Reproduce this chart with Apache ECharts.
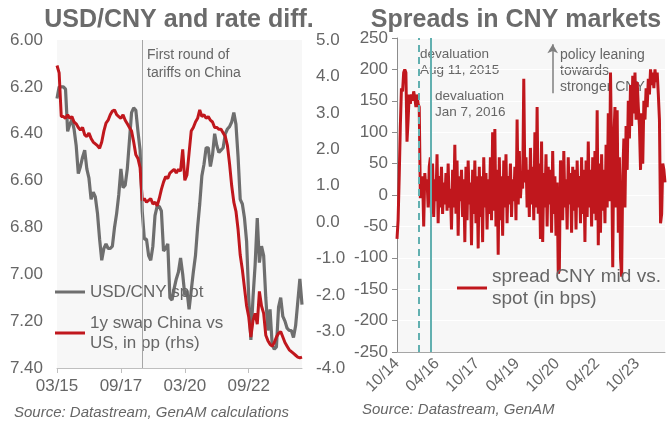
<!DOCTYPE html>
<html><head><meta charset="utf-8">
<script src="https://cdn.jsdelivr.net/npm/echarts@6/dist/echarts.min.js"></script>
<style>html,body{margin:0;padding:0;background:#fff}#c{width:670px;height:421px}</style>
</head><body><div id="c"></div>
<script>
// ---- data ----
// Left chart: monthly, Mar 2015 .. Oct 2024
const leftStartYear = 2015, leftStartMonth = 3, leftMonthCount = 116;
const usdcny = [
  6.25,6.20,6.20,6.20,6.21,6.39,6.36,6.34,6.38,6.45,
  6.57,6.54,6.50,6.47,6.55,6.59,6.68,6.65,6.67,6.74,6.85,6.94,
  6.89,6.87,6.89,6.89,6.88,6.80,6.74,6.66,6.55,6.63,6.62,6.55,
  6.43,6.31,6.29,6.30,6.39,6.47,6.73,6.85,6.85,6.92,6.94,6.88,
  6.75,6.71,6.71,6.73,6.90,6.89,6.87,7.10,7.11,7.06,7.02,6.99,
  6.93,7.00,7.09,7.07,7.15,7.07,6.99,6.92,6.80,6.70,6.58,6.53,
  6.46,6.46,6.54,6.49,6.40,6.45,6.48,6.47,6.46,6.40,6.38,6.37,
  6.35,6.31,6.36,6.50,6.68,6.70,6.76,6.86,7.10,7.28,7.10,6.96,
  6.76,6.95,6.88,6.92,7.10,7.24,7.15,7.30,7.32,7.31,7.14,7.10,
  7.18,7.20,7.23,7.24,7.24,7.27,7.22,7.12,7.02,7.13
];
const rateDiff = [
  4.30,4.10,2.90,2.90,2.85,2.95,2.85,2.90,2.75,2.70,
  2.60,2.53,2.60,2.40,2.35,2.45,2.30,2.20,2.15,2.10,2.03,2.20,
  2.50,2.72,2.80,2.95,3.05,3.08,2.95,2.90,2.85,2.95,2.80,2.70,
  2.60,2.50,2.20,1.85,1.75,1.50,0.60,0.65,0.55,0.60,0.65,0.50,
  0.55,0.45,0.65,0.90,1.10,1.25,1.20,1.35,1.40,1.45,1.35,1.45,
  1.40,2.00,1.15,1.30,1.90,2.50,2.60,2.75,2.85,3.08,2.90,2.95,
  2.85,2.90,2.80,2.75,2.60,2.60,2.55,2.55,2.45,2.35,2.10,1.60,
  1.00,0.55,0.30,-0.20,-0.90,-1.30,-1.80,-2.30,-2.60,-3.15,-2.70,-2.50,
  -2.80,-1.90,-2.30,-2.50,-3.10,-3.25,-3.35,-3.40,-3.30,-3.15,-3.05,-3.00,
  -3.15,-3.30,-3.40,-3.50,-3.55,-3.60,-3.65,-3.70,-3.72,-3.70
];
// Right chart: two readings per month, Oct 2014 .. Oct 2024
const rightStartYear = 2014, rightStartMonth = 10, rightMonthCount = 121;
const spread = [
  -70,-40, 30,110, 170,165, 195,200, 195,85, 120,160, 145,160, 150,165, 155,140, 160,145,
  140,-5, 15,30, -50,35, 10,25, -20,45, 60,-30, 50,-35, 25,-10, 65,-45, 30,-20,
  45,-30, 20,-15, 35,-25, 50,-20, 10,-55, 40,-20, 80,-30, 55,-65, 30,-10, 40,-35,
  25,-75, 45,-40, 55,-15, 20,-80, 40,-30, 55,-45, 30,-85, 45,-35, 30,-75, 60,-20,
  35,-55, 25,-30, 60,-40, 100,-25, 105,-50, 40,-95, 60,-40, 30,-65, 55,-20, 65,-45,
  30,-15, 50,-35, 25,-10, 45,-40, 120,-15, 70,-5, 30,10, 185,20, 60,-20, 40,-35,
  75,-15, 45,-40, 100,-20, 140,-30, 50,-70, 85,-75, 35,-20, 65,-50, 45,-15, 40,-60,
  70,-30, 30,-65, 20,-125, -120,55, 40,-40, 70,-20, 25,-55, 60,-15, 35,-60, 45,-25,
  40,-55, 55,-20, 30,-45, 60,-30, 40,-75, 55,-35, 85,-20, 40,-50, 60,-30, 70,-40,
  135,-80, 50,-60, 65,-25, 40,-45, 80,-20, 130,-10, 195,60, -115,90, 140,-20, 135,-60,
  60,-100, -130,30, 90,-20, 110,40, 150,90, 175,110, 190,130, 195,120, 180,140, 110,40,
  130,50, 150,120, 170,140, 185,160, 200,175, 195,170, 200,180, 195,160, 120,-45, -30,50,
  40,20
];
const leftTickLabels = ['03/15','09/17','03/20','09/22'];
const rightTickLabels = ['10/14','04/16','10/17','04/19','10/20','04/22','10/23'];
const tariffIndex = 40;      // Jul 2018 (month index in left chart)
const devalIndexAug15 = 20;  // Aug 2015 (half-month index in right chart)
const devalIndexJan16 = 30;  // Jan 2016

// ---- categories ----
function mmYY(y, m) { return String(m).padStart(2,'0') + '/' + String(y % 100).padStart(2,'0'); }
const leftCats = [];
for (let i = 0; i < leftMonthCount; i++) {
  const t = leftStartMonth - 1 + i;
  leftCats.push(mmYY(leftStartYear + Math.floor(t / 12), t % 12 + 1));
}
const rightCats = [];
for (let i = 0; i < rightMonthCount; i++) {
  const t = rightStartMonth - 1 + i;
  const lab = mmYY(rightStartYear + Math.floor(t / 12), t % 12 + 1);
  rightCats.push(lab + ' a'); rightCats.push(lab + ' b');
}

const FONT = '"Liberation Sans", Arial, sans-serif';
const TXT = '#666666';
const AXIS = '#bfbfbf';
const RED = '#c0171d';
const GRAY = '#6e6e6e';
const TEAL = '#62b0b0';

const chart = echarts.init(document.getElementById('c'), null, {renderer: 'canvas'});
chart.setOption({
  animation: false,
  backgroundColor: '#ffffff',
  textStyle: {fontFamily: FONT},
  grid: [
    {left: 57, top: 40, width: 245, height: 328, show: true, backgroundColor: '#f7f7f7', borderWidth: 0},
    {left: 397, top: 38, width: 268, height: 314, show: true, backgroundColor: '#f7f7f7', borderWidth: 0}
  ],
  xAxis: [
    {type: 'category', gridIndex: 0, data: leftCats, boundaryGap: false, position: 'bottom',
     axisLine: {onZero: false, lineStyle: {color: AXIS, width: 1}},
     axisTick: {show: true, interval: 29, length: 5, lineStyle: {color: AXIS}},
     axisLabel: {interval: 29, margin: 10, color: TXT, fontSize: 17, fontFamily: FONT,
       formatter: v => leftTickLabels.includes(v) ? v : ''},
     splitLine: {show: false}},
    {type: 'category', gridIndex: 1, data: rightCats, boundaryGap: false, position: 'bottom',
     axisLine: {onZero: false, lineStyle: {color: '#a6a6a6', width: 1}},
     axisTick: {show: false},
     axisLabel: {interval: 35, rotate: 45, margin: 9, color: TXT, fontSize: 16, fontFamily: FONT,
       formatter: v => { const s = v.slice(0,5); return rightTickLabels.includes(s) ? s : ''; }},
     splitLine: {show: false}}
  ],
  yAxis: [
    {type: 'value', gridIndex: 0, position: 'left', inverse: true, min: 6.0, max: 7.4, interval: 0.2,
     axisLine: {show: false}, axisTick: {show: false}, splitLine: {show: false},
     axisLabel: {margin: 14, color: TXT, fontSize: 17, fontFamily: FONT, formatter: v => v.toFixed(2)}},
    {type: 'value', gridIndex: 0, position: 'right', min: -4, max: 5, interval: 1,
     axisLine: {show: false}, axisTick: {show: false}, splitLine: {show: false},
     axisLabel: {margin: 14, color: TXT, fontSize: 17, fontFamily: FONT, formatter: v => v.toFixed(1)}},
    {type: 'value', gridIndex: 1, position: 'left', min: -250, max: 250, interval: 50,
     axisLine: {show: true, onZero: false, lineStyle: {color: '#8c8c8c', width: 1}},
     axisTick: {show: true, length: 5, lineStyle: {color: '#8c8c8c'}},
     splitLine: {show: true, lineStyle: {color: '#ffffff', width: 1}},
     axisLabel: {margin: 9, color: TXT, fontSize: 17, fontFamily: FONT}}
  ],
  legend: [
    {left: 55, top: 282, orient: 'vertical', padding: 0, itemGap: 1, itemWidth: 30, itemHeight: 3,
     icon: 'rect', selectedMode: false,
     textStyle: {fontSize: 17, color: TXT, fontFamily: FONT, lineHeight: 20},
     formatter: n => n === '1y swap China vs US, in pp (rhs)' ? '1y swap China vs\nUS, in pp (rhs)' : n,
     data: [{name: 'USD/CNY spot'},
            {name: '1y swap China vs US, in pp (rhs)', textStyle: {padding: [20, 0, 0, 0]}}]},
    {left: 457, top: 255, orient: 'vertical', padding: 0, itemWidth: 30, itemHeight: 3,
     icon: 'rect', selectedMode: false,
     textStyle: {fontSize: 19, color: TXT, fontFamily: FONT, lineHeight: 22},
     formatter: () => 'spread CNY mid vs.\nspot (in bps)',
     data: [{name: 'spread CNY mid vs. spot (in bps)', textStyle: {padding: [22, 0, 0, 0]}}]}
  ],
  series: [
    {name: 'USD/CNY spot', type: 'line', xAxisIndex: 0, yAxisIndex: 0, data: usdcny,
     showSymbol: false, symbol: 'none', lineStyle: {color: GRAY, width: 3.2}, itemStyle: {color: GRAY},
     markLine: {silent: true, symbol: 'none', label: {show: false},
       lineStyle: {color: '#a6a6a6', width: 1, type: 'solid'},
       data: [{xAxis: tariffIndex}]}},
    {name: '1y swap China vs US, in pp (rhs)', type: 'line', xAxisIndex: 0, yAxisIndex: 1, data: rateDiff,
     showSymbol: false, symbol: 'none', lineStyle: {color: RED, width: 3}, itemStyle: {color: RED}},
    {name: 'spread CNY mid vs. spot (in bps)', type: 'line', xAxisIndex: 1, yAxisIndex: 2, data: spread,
     showSymbol: false, symbol: 'none', lineStyle: {color: RED, width: 3}, itemStyle: {color: RED},
     markLine: {silent: true, symbol: 'none', label: {show: false},
       data: [
         {xAxis: devalIndexAug15, lineStyle: {color: TEAL, width: 2, type: [7, 5]}},
         {xAxis: devalIndexJan16, lineStyle: {color: TEAL, width: 2, type: 'solid'}},
         [{coord: [140, 162], symbol: 'none', lineStyle: {color: '#7f7f7f', width: 1.5, type: 'solid'}},
          {coord: [140, 240], symbol: 'arrow', symbolSize: [8, 9]}]
       ]}}
  ],
  graphic: [
    {type: 'text', x: 179, y: 20, style: {text: 'USD/CNY and rate diff.', font: 'bold 25px ' + FONT, fill: '#6b6b6b', align: 'center', verticalAlign: 'middle'}},
    {type: 'text', x: 516, y: 20, style: {text: 'Spreads in CNY markets', font: 'bold 25px ' + FONT, fill: '#6b6b6b', align: 'center', verticalAlign: 'middle'}},
    {type: 'text', x: 147, y: 46, style: {text: 'First round of\ntariffs on China', font: '14px ' + FONT, lineHeight: 18, fill: TXT, align: 'left', verticalAlign: 'top'}},
    {type: 'text', x: 420, y: 46, style: {text: 'devaluation\nAug 11, 2015', font: '13.5px ' + FONT, lineHeight: 16, fill: TXT, align: 'left', verticalAlign: 'top'}},
    {type: 'text', x: 435, y: 88, style: {text: 'devaluation\nJan 7, 2016', font: '13.5px ' + FONT, lineHeight: 16, fill: TXT, align: 'left', verticalAlign: 'top'}},
    {type: 'text', x: 560, y: 47, style: {text: 'policy leaning\ntowards\nstronger CNY', font: '14px ' + FONT, lineHeight: 16, fill: TXT, align: 'left', verticalAlign: 'top'}},
    {type: 'text', x: 14, y: 413, style: {text: 'Source: Datastream, GenAM calculations', font: 'italic 15px ' + FONT, fill: TXT, align: 'left', verticalAlign: 'middle'}},
    {type: 'text', x: 362, y: 410, style: {text: 'Source: Datastream, GenAM', font: 'italic 15px ' + FONT, fill: TXT, align: 'left', verticalAlign: 'middle'}}
  ]
});
</script>
</body></html>
